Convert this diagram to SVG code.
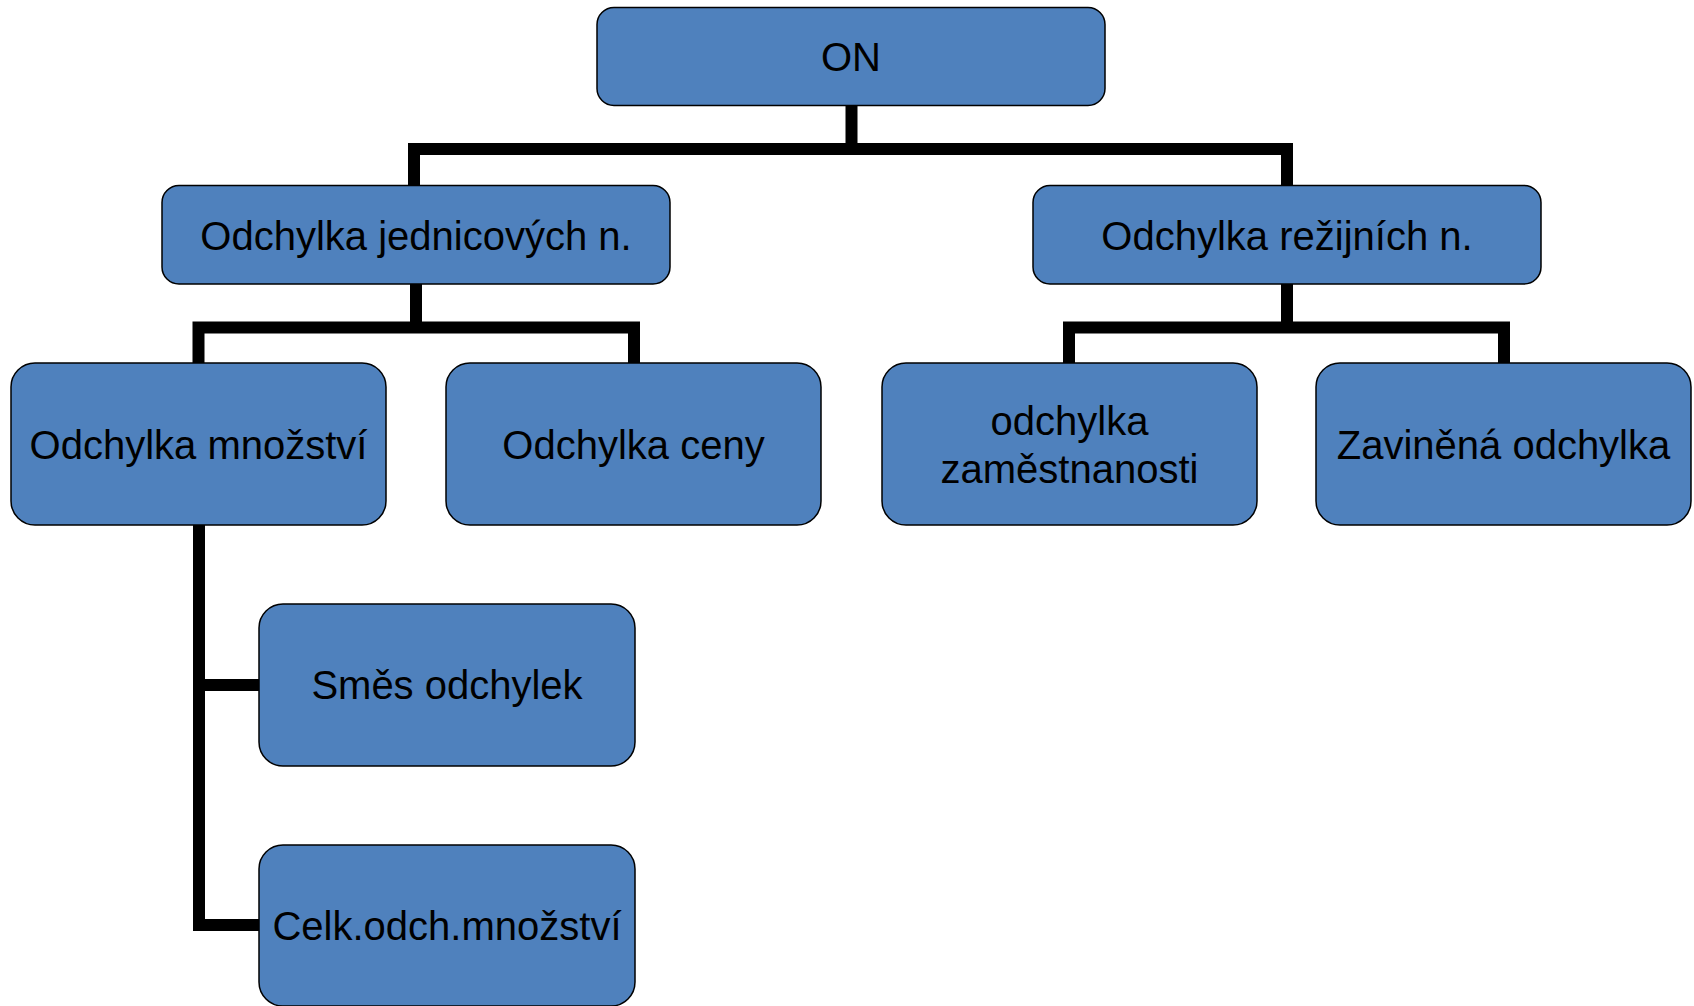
<svg xmlns="http://www.w3.org/2000/svg" width="1694" height="1006" viewBox="0 0 1694 1006">
<style>
.box{fill:#4F81BD;stroke:#000;stroke-width:1.5}
.lbl{font-family:"Liberation Sans",Arial,sans-serif;font-size:40px;fill:#000;text-anchor:middle}
.con{fill:none;stroke:#000;stroke-width:12;stroke-linejoin:miter;stroke-linecap:butt}
</style>
<rect width="1694" height="1006" fill="#fff"/>
<g id="connectors">
<path class="con" d="M851.5,106 V149 M414,149 H1293 M414,143 V186 M1287,143 V186"/>
<path class="con" d="M416,284 V327.5 M198.5,327.5 H640 M198.5,321.5 V363 M634,321.5 V363"/>
<path class="con" d="M1287,284 V327.5 M1069,327.5 H1510 M1069,321.5 V363 M1504,321.5 V363"/>
<path class="con" d="M199,525 V925 M193,685 H259 M193,925 H259"/>
</g>
<g id="node-on">
<rect class="box" x="597" y="7.5" width="508" height="98" rx="17"/>
<text class="lbl" x="851" y="71">ON</text>
</g>
<g id="node-jednicove">
<rect class="box" x="162" y="185.5" width="508" height="98.5" rx="17"/>
<text class="lbl" x="416" y="250">Odchylka jednicových n.</text>
</g>
<g id="node-rezijni">
<rect class="box" x="1033" y="185.5" width="508" height="98.5" rx="17"/>
<text class="lbl" x="1287" y="250">Odchylka režijních n.</text>
</g>
<g id="node-mnozstvi">
<rect class="box" x="11" y="363" width="375" height="162" rx="24"/>
<text class="lbl" x="198.5" y="459">Odchylka množství</text>
</g>
<g id="node-ceny">
<rect class="box" x="446" y="363" width="375" height="162" rx="24"/>
<text class="lbl" x="633.5" y="459">Odchylka ceny</text>
</g>
<g id="node-zamestnanost">
<rect class="box" x="882" y="363" width="375" height="162" rx="24"/>
<text class="lbl" x="1069.5" y="435">odchylka</text>
<text class="lbl" x="1069.5" y="483">zaměstnanosti</text>
</g>
<g id="node-zavinena">
<rect class="box" x="1316" y="363" width="375" height="162" rx="24"/>
<text class="lbl" x="1503.5" y="459">Zaviněná odchylka</text>
</g>
<g id="node-smes">
<rect class="box" x="259" y="604" width="376" height="162" rx="24"/>
<text class="lbl" x="447" y="699">Směs odchylek</text>
</g>
<g id="node-celk">
<rect class="box" x="259" y="845" width="376" height="161" rx="24"/>
<text class="lbl" x="447" y="940">Celk.odch.množství</text>
</g>
</svg>
